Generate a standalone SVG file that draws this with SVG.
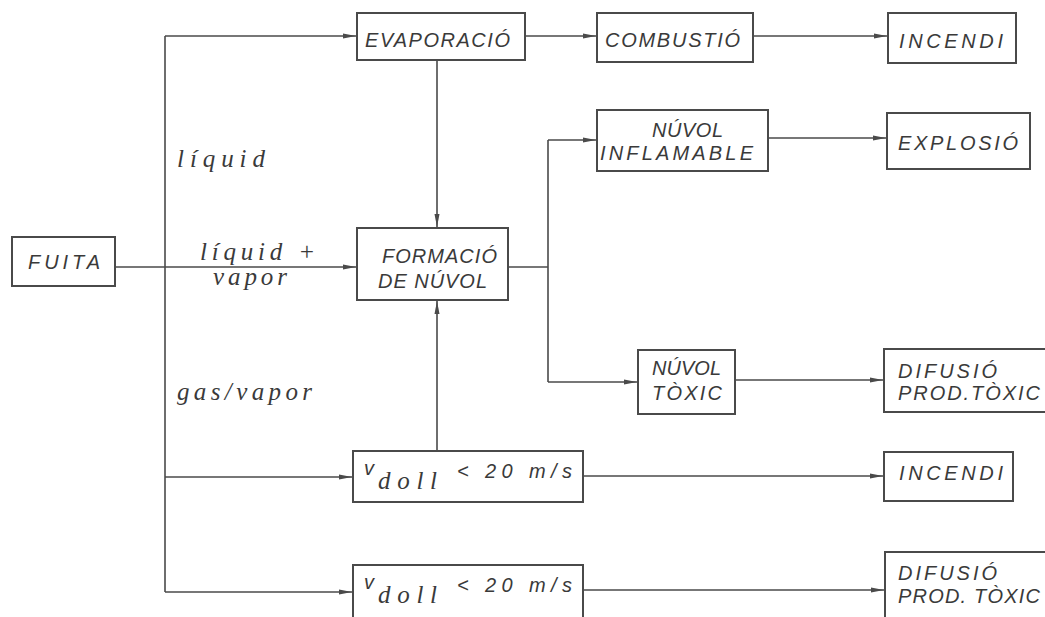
<svg xmlns="http://www.w3.org/2000/svg" width="1045" height="617" viewBox="0 0 1045 617">
<style>
.box{fill:#fff;stroke:#4a4a4a;stroke-width:2}
.c{fill:none;stroke:#4a4a4a;stroke-width:1.6}
.t{font-family:"Liberation Sans",Arial,sans-serif;font-style:italic;font-size:20px;fill:#3a3a3a}
.l{font-family:"Liberation Serif","Times New Roman",serif;font-style:italic;font-size:25px;fill:#3a3a3a}
</style>
<defs>
<marker id="ah" markerUnits="userSpaceOnUse" markerWidth="14" markerHeight="8" refX="13" refY="4" orient="auto">
<path d="M0,1.5 L13,4 L0,6.5 Z" fill="#4a4a4a"/>
</marker>
</defs>
<rect width="1045" height="617" fill="#fff"/>
<g id="connectors">
<line class="c" x1="115" y1="267" x2="356" y2="267" marker-end="url(#ah)"/>
<line class="c" x1="165" y1="36" x2="165" y2="592"/>
<line class="c" x1="165" y1="36" x2="356" y2="36" marker-end="url(#ah)"/>
<line class="c" x1="165" y1="477" x2="352" y2="477" marker-end="url(#ah)"/>
<line class="c" x1="165" y1="592" x2="352" y2="592" marker-end="url(#ah)"/>
<line class="c" x1="525" y1="36" x2="596" y2="36" marker-end="url(#ah)"/>
<line class="c" x1="753" y1="36" x2="887" y2="36" marker-end="url(#ah)"/>
<line class="c" x1="437" y1="60" x2="437" y2="227" marker-end="url(#ah)"/>
<line class="c" x1="437" y1="451" x2="437" y2="301" marker-end="url(#ah)"/>
<line class="c" x1="508" y1="267" x2="548" y2="267"/>
<line class="c" x1="548" y1="140" x2="548" y2="382"/>
<line class="c" x1="548" y1="140" x2="596" y2="140" marker-end="url(#ah)"/>
<line class="c" x1="548" y1="382" x2="637" y2="382" marker-end="url(#ah)"/>
<line class="c" x1="768" y1="138" x2="886" y2="138" marker-end="url(#ah)"/>
<line class="c" x1="735" y1="380" x2="883" y2="380" marker-end="url(#ah)"/>
<line class="c" x1="583" y1="476" x2="883" y2="476" marker-end="url(#ah)"/>
<line class="c" x1="583" y1="590" x2="884" y2="590" marker-end="url(#ah)"/>
</g>
<g id="labels">
<text class="l" x="177" y="167" textLength="88" lengthAdjust="spacing">líquid</text>
<text class="l" x="200" y="260" textLength="115" lengthAdjust="spacing">líquid +</text>
<text class="l" x="213" y="285" textLength="74" lengthAdjust="spacing">vapor</text>
<text class="l" x="177" y="400" textLength="135" lengthAdjust="spacing">gas/vapor</text>
</g>
<g id="fuita"><rect class="box" x="12" y="237" width="103" height="49"/><text class="t" x="28" y="269" textLength="72" lengthAdjust="spacing">FUITA</text></g>
<g id="evaporacio"><rect class="box" x="357" y="13" width="168" height="47"/><text class="t" x="365" y="47" textLength="145" lengthAdjust="spacing">EVAPORACIÓ</text></g>
<g id="combustio"><rect class="box" x="597" y="13" width="156" height="49"/><text class="t" x="605" y="47" textLength="135" lengthAdjust="spacing">COMBUSTIÓ</text></g>
<g id="incendi1"><rect class="box" x="888" y="13" width="128" height="50"/><text class="t" x="899" y="48" textLength="104" lengthAdjust="spacing">INCENDI</text></g>
<g id="formacio"><rect class="box" x="357" y="228" width="151" height="72"/><text class="t" x="382" y="263" textLength="115" lengthAdjust="spacing">FORMACIÓ</text><text class="t" x="378" y="288" textLength="109" lengthAdjust="spacing">DE NÚVOL</text></g>
<g id="nuvol-inflamable"><rect class="box" x="597" y="110" width="171" height="61"/><text class="t" x="652" y="137" textLength="71" lengthAdjust="spacing">NÚVOL</text><text class="t" x="600" y="160" textLength="153" lengthAdjust="spacing">INFLAMABLE</text></g>
<g id="explosio"><rect class="box" x="887" y="113" width="143" height="56"/><text class="t" x="898" y="150" textLength="120" lengthAdjust="spacing">EXPLOSIÓ</text></g>
<g id="nuvol-toxic"><rect class="box" x="638" y="350" width="97" height="64"/><text class="t" x="652" y="375" textLength="69" lengthAdjust="spacing">NÚVOL</text><text class="t" x="652" y="400" textLength="70" lengthAdjust="spacing">TÒXIC</text></g>
<g id="difusio1"><rect class="box" x="884" y="349" width="170" height="63"/><text class="t" x="898" y="378" textLength="99" lengthAdjust="spacing">DIFUSIÓ</text><text class="t" x="898" y="400" textLength="142" lengthAdjust="spacing">PROD.TÒXIC</text></g>
<g id="vdoll1"><rect class="box" x="353" y="451" width="230" height="51"/><text class="t" x="364" y="475" font-size="22">v</text><text class="l" x="378" y="489" textLength="59" lengthAdjust="spacing">doll</text><text class="t" x="457" y="478" textLength="115" lengthAdjust="spacing">&lt; 20 m/s</text></g>
<g id="incendi2"><rect class="box" x="884" y="452" width="129" height="49"/><text class="t" x="899" y="480" textLength="104" lengthAdjust="spacing">INCENDI</text></g>
<g id="vdoll2"><rect class="box" x="353" y="565" width="230" height="60"/><text class="t" x="364" y="589" font-size="22">v</text><text class="l" x="378" y="603" textLength="59" lengthAdjust="spacing">doll</text><text class="t" x="457" y="592" textLength="115" lengthAdjust="spacing">&lt; 20 m/s</text></g>
<g id="difusio2"><rect class="box" x="885" y="552" width="170" height="70"/><text class="t" x="898" y="580" textLength="99" lengthAdjust="spacing">DIFUSIÓ</text><text class="t" x="898" y="603" textLength="142" lengthAdjust="spacing">PROD. TÒXIC</text></g>
</svg>
